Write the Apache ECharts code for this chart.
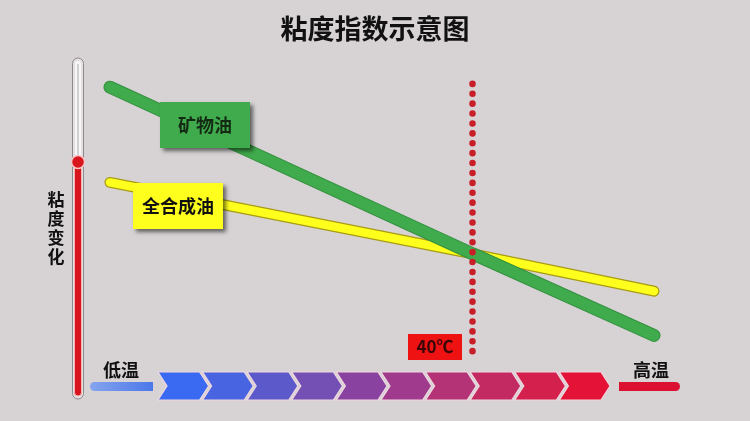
<!DOCTYPE html>
<html><head><meta charset="utf-8">
<script src="https://cdn.jsdelivr.net/npm/echarts@6/dist/echarts.min.js"></script>
<style>html,body{margin:0;padding:0;background:#d7d3d5}#c{width:750px;height:421px}</style>
</head><body><div id="c"></div>
<script>
// ---- data ----
const titleText = '粘度指数示意图';
const temps = [-20, 40, 70];              // temperature (°C, schematic)
const mineralOil = [92, 43, 19];          // viscosity (relative)
const syntheticOil = [64, 43, 32];        // viscosity (relative)
const seriesNames = ['矿物油', '全合成油'];
const markTemp = 40;
const markRange = [93, 14];
const markLabel = '40℃';
const yAxisName = '粘度变化';
const lowLabel = '低温';
const highLabel = '高温';
const chevronColors = ['#3a6af2', '#4864e0', '#5c5acb', '#7450b4', '#8a42a0', '#a03a8c', '#b43276', '#c42a62', '#d4204c', '#e41236'];

const FONT = '"Noto Sans CJK SC", sans-serif';
const pairs = (vals) => temps.map((t, i) => [t, vals[i]]);

const chart = echarts.init(document.getElementById('c'), null, { renderer: 'canvas' });

const chevrons = chevronColors.map((c, i) => {
  const x0 = 158 + i * 44.6, w = 50.6, d = 9, top = 372, bot = 400, mid = (top + bot) / 2;
  return {
    type: 'polygon', z: 50,
    shape: { points: [[x0, top], [x0 + w - d, top], [x0 + w, mid], [x0 + w - d, bot], [x0, bot], [x0 + d, mid]] },
    style: { fill: c, stroke: '#f0d8e0', lineWidth: 1.2, lineJoin: 'miter' }
  };
});

const boxShadow = { shadowBlur: 4, shadowOffsetX: 3, shadowOffsetY: 3, shadowColor: 'rgba(0,0,0,0.55)' };

chart.setOption({
  backgroundColor: '#d7d3d5',
  animation: false,
  grid: { left: 110, right: 96, top: 60, bottom: 21 },
  xAxis: { type: 'value', min: -20, max: 70, show: false },
  yAxis: { type: 'value', min: 0, max: 100, show: false },
  series: [
    { name: seriesNames[1] + '_edge', type: 'line', data: pairs(syntheticOil), symbol: 'none', silent: true, z: 2,
      lineStyle: { width: 11, color: '#a89c14', cap: 'round' } },
    { name: seriesNames[1], type: 'line', data: pairs(syntheticOil), symbol: 'none', silent: true, z: 3,
      lineStyle: { width: 8.5, color: '#ffff1e', cap: 'round' } },
    { name: seriesNames[0] + '_edge', type: 'line', data: pairs(mineralOil), symbol: 'none', silent: true, z: 4,
      lineStyle: { width: 13, color: '#33903f', cap: 'round' } },
    { name: seriesNames[0], type: 'line', data: pairs(mineralOil), symbol: 'none', silent: true, z: 5,
      lineStyle: { width: 11, color: '#40ab4c', cap: 'round' },
      markLine: {
        silent: true, symbol: ['none', 'none'], label: { show: false }, z: 10,
        emphasis: { disabled: true },
        lineStyle: { color: '#c81e28', width: 6.5, type: [0.1, 9.8], cap: 'round', opacity: 1 },
        data: [[{ coord: [markTemp, markRange[0]] }, { coord: [markTemp, markRange[1]] }]]
      } }
  ],
  graphic: [
    { type: 'text', x: 375, y: 29, z: 100, style: { text: titleText, font: `bold 27px ${FONT}`, fill: '#111', align: 'center', verticalAlign: 'middle' } },
    // label boxes
    { type: 'rect', z: 100, shape: { x: 160, y: 102, width: 90, height: 46 }, style: Object.assign({ fill: '#40ab4c' }, boxShadow) },
    { type: 'text', z: 101, x: 205, y: 125, style: { text: seriesNames[0], font: `bold 18px ${FONT}`, fill: '#142a14', align: 'center', verticalAlign: 'middle' } },
    { type: 'rect', z: 100, shape: { x: 133, y: 183, width: 90, height: 46 }, style: Object.assign({ fill: '#ffff1e' }, boxShadow) },
    { type: 'text', z: 101, x: 178, y: 206, style: { text: seriesNames[1], font: `bold 18px ${FONT}`, fill: '#111', align: 'center', verticalAlign: 'middle' } },
    { type: 'rect', z: 100, shape: { x: 408, y: 334, width: 54, height: 26 }, style: { fill: '#ee1212' } },
    { type: 'text', z: 101, x: 435, y: 347, style: { text: markLabel, font: `bold 17px ${FONT}`, fill: '#3a0606', align: 'center', verticalAlign: 'middle' } },
    // thermometer
    { type: 'rect', z: 50, shape: { x: 72.5, y: 58, width: 11, height: 341, r: 5.5 }, style: { fill: '#e4e0e2', stroke: '#8e8a8c', lineWidth: 1 } },
    { type: 'rect', z: 51, shape: { x: 75, y: 61, width: 6, height: 102, r: 3 }, style: { fill: '#f6f6f6' } },
    { type: 'rect', z: 52, shape: { x: 77.3, y: 64, width: 1.4, height: 96 }, style: { fill: '#c4c2c3' } },
    { type: 'rect', z: 52, shape: { x: 74.5, y: 162, width: 7, height: 234, r: 3.5 }, style: { fill: '#d8141c', stroke: '#f0b4b4', lineWidth: 1 } },
    { type: 'circle', z: 53, shape: { cx: 78, cy: 162, r: 6.5 }, style: { fill: '#d8141c', stroke: '#f6c6c6', lineWidth: 1.5 } },
    { type: 'text', z: 100, x: 56, y: 228, style: { text: yAxisName.split('').join('\n'), font: `bold 17px ${FONT}`, lineHeight: 19, fill: '#111', align: 'center', verticalAlign: 'middle' } },
    // temperature arrow
    { type: 'rect', z: 50, shape: { x: 90, y: 382, width: 63, height: 9, r: [4.5, 0, 0, 4.5] },
      style: { fill: new echarts.graphic.LinearGradient(0, 0, 1, 0, [{ offset: 0, color: '#86a4ee' }, { offset: 1, color: '#4a78ea' }]) } },
    { type: 'rect', z: 50, shape: { x: 619, y: 382, width: 61, height: 9, r: [0, 4.5, 4.5, 0] }, style: { fill: '#dc1030' } },
    ...chevrons,
    { type: 'text', z: 100, x: 121, y: 370, style: { text: lowLabel, font: `bold 18px ${FONT}`, fill: '#111', align: 'center', verticalAlign: 'middle' } },
    { type: 'text', z: 100, x: 651, y: 370, style: { text: highLabel, font: `bold 18px ${FONT}`, fill: '#111', align: 'center', verticalAlign: 'middle' } }
  ]
});
</script>
</body></html>
